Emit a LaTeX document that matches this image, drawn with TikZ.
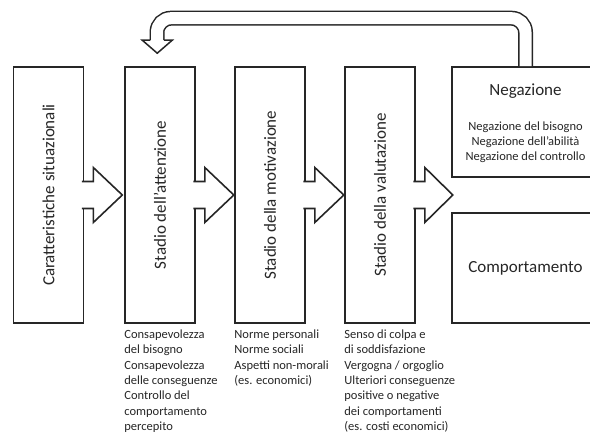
\documentclass[tikz,border=0pt]{standalone}
\usepackage{fontspec}
\setmainfont{Carlito}
\usetikzlibrary{positioning}

\tikzset{
  stadio/.style={shape=rectangle,draw=black!85,line width=1.6pt,minimum width=70pt,minimum height=256pt,inner sep=0pt},
  esito/.style={shape=rectangle,draw=black!85,line width=1.6pt,minimum width=147pt,minimum height=110pt,inner sep=0pt},
  titolo/.style={font=\fontsize{17}{20}\selectfont,text=black!85},
  voci/.style={font=\fontsize{12.5}{15.3}\selectfont,text=black!85,inner sep=0pt},
  freccia/.style={draw=black!85,line width=1.6pt,fill=white,line join=miter},
}

\begin{document}
\begin{tikzpicture}[x=1pt,y=1pt]
        \useasboundingbox (0,0) rectangle (590,437);

        \node[stadio] (cs)   at (48.5,242) {};
        \node[stadio] (att)  at (160,242)  {};
        \node[stadio] (mot)  at (270,242)  {};
        \node[stadio] (val)  at (380,242)  {};
        \node[esito]  (neg)  at (525.5,315) {};
        \node[esito]  (comp) at (525.5,169) {};

        \node[titolo,rotate=90] (cstesto)  at (cs)  {Caratteristiche situazionali};
        \node[titolo,rotate=90] (atttesto) at (att) {Stadio dell'attenzione};
        \node[titolo,rotate=90] (mottesto) at (mot) {Stadio della motivazione};
        \node[titolo,rotate=90] (valtesto) at (val) {Stadio della valutazione};

        \node[titolo] (negtitolo)  at ([yshift=-25pt]neg.north) {Negazione};
        \node[voci,align=center] (negvoci) at ([yshift=-76pt]neg.north) {Negazione del bisogno\\Negazione dell'abilità\\Negazione del controllo};
        \node[titolo] (comptesto) at (comp) {Comportamento};

        \node[voci,anchor=north west,align=left] (attvoci) at ([yshift=-6pt]att.south west) {Consapevolezza\\del bisogno\\Consapevolezza\\delle conseguenze\\Controllo del\\comportamento\\percepito};
        \node[voci,anchor=north west,align=left] (motvoci) at ([yshift=-6pt]mot.south west) {Norme personali\\Norme sociali\\Aspetti non-morali\\(es. economici)};
        \node[voci,anchor=north west,align=left] (valvoci) at ([yshift=-6pt]val.south west) {Senso di colpa e\\di soddisfazione\\Vergogna / orgoglio\\Ulteriori conseguenze\\positive o negative\\dei comportamenti\\(es. costi economici)};

        % frecce tra gli stadi
        \filldraw[freccia] ([xshift=-2.5pt,yshift=13.5pt]cs.east) -- ++(11.5,0) -- ++(0,14) -- ++(29,-27.5) -- ++(-29,-27.5) -- ++(0,14) -- ([xshift=-2.5pt,yshift=-13.5pt]cs.east);
        \filldraw[freccia] ([xshift=-2.5pt,yshift=13.5pt]att.east) -- ++(11.5,0) -- ++(0,14) -- ++(29,-27.5) -- ++(-29,-27.5) -- ++(0,14) -- ([xshift=-2.5pt,yshift=-13.5pt]att.east);
        \filldraw[freccia] ([xshift=-2.5pt,yshift=13.5pt]mot.east) -- ++(11.5,0) -- ++(0,14) -- ++(29,-27.5) -- ++(-29,-27.5) -- ++(0,14) -- ([xshift=-2.5pt,yshift=-13.5pt]mot.east);
        \filldraw[freccia] ([xshift=-2.5pt,yshift=13.5pt]val.east) -- ++(11.5,0) -- ++(0,14) -- ++(28,-27.5) -- ++(-28,-27.5) -- ++(0,14) -- ([xshift=-2.5pt,yshift=-13.5pt]val.east);

        % ritorno dalla negazione
        \draw[black!85,line width=1.5pt,double=white,double distance=12pt,rounded corners=14pt] (neg.north) -- ++(0,48) -| ([xshift=-3pt,yshift=26pt]att.north);
        \filldraw[freccia,line width=1.5pt] ([xshift=-9.75pt,yshift=26pt]att.north) -- ++(-8,0) -- ++(15,-13) -- ++(15,13) -- ++(-8.5,0);
    \end{tikzpicture}
\end{document}
